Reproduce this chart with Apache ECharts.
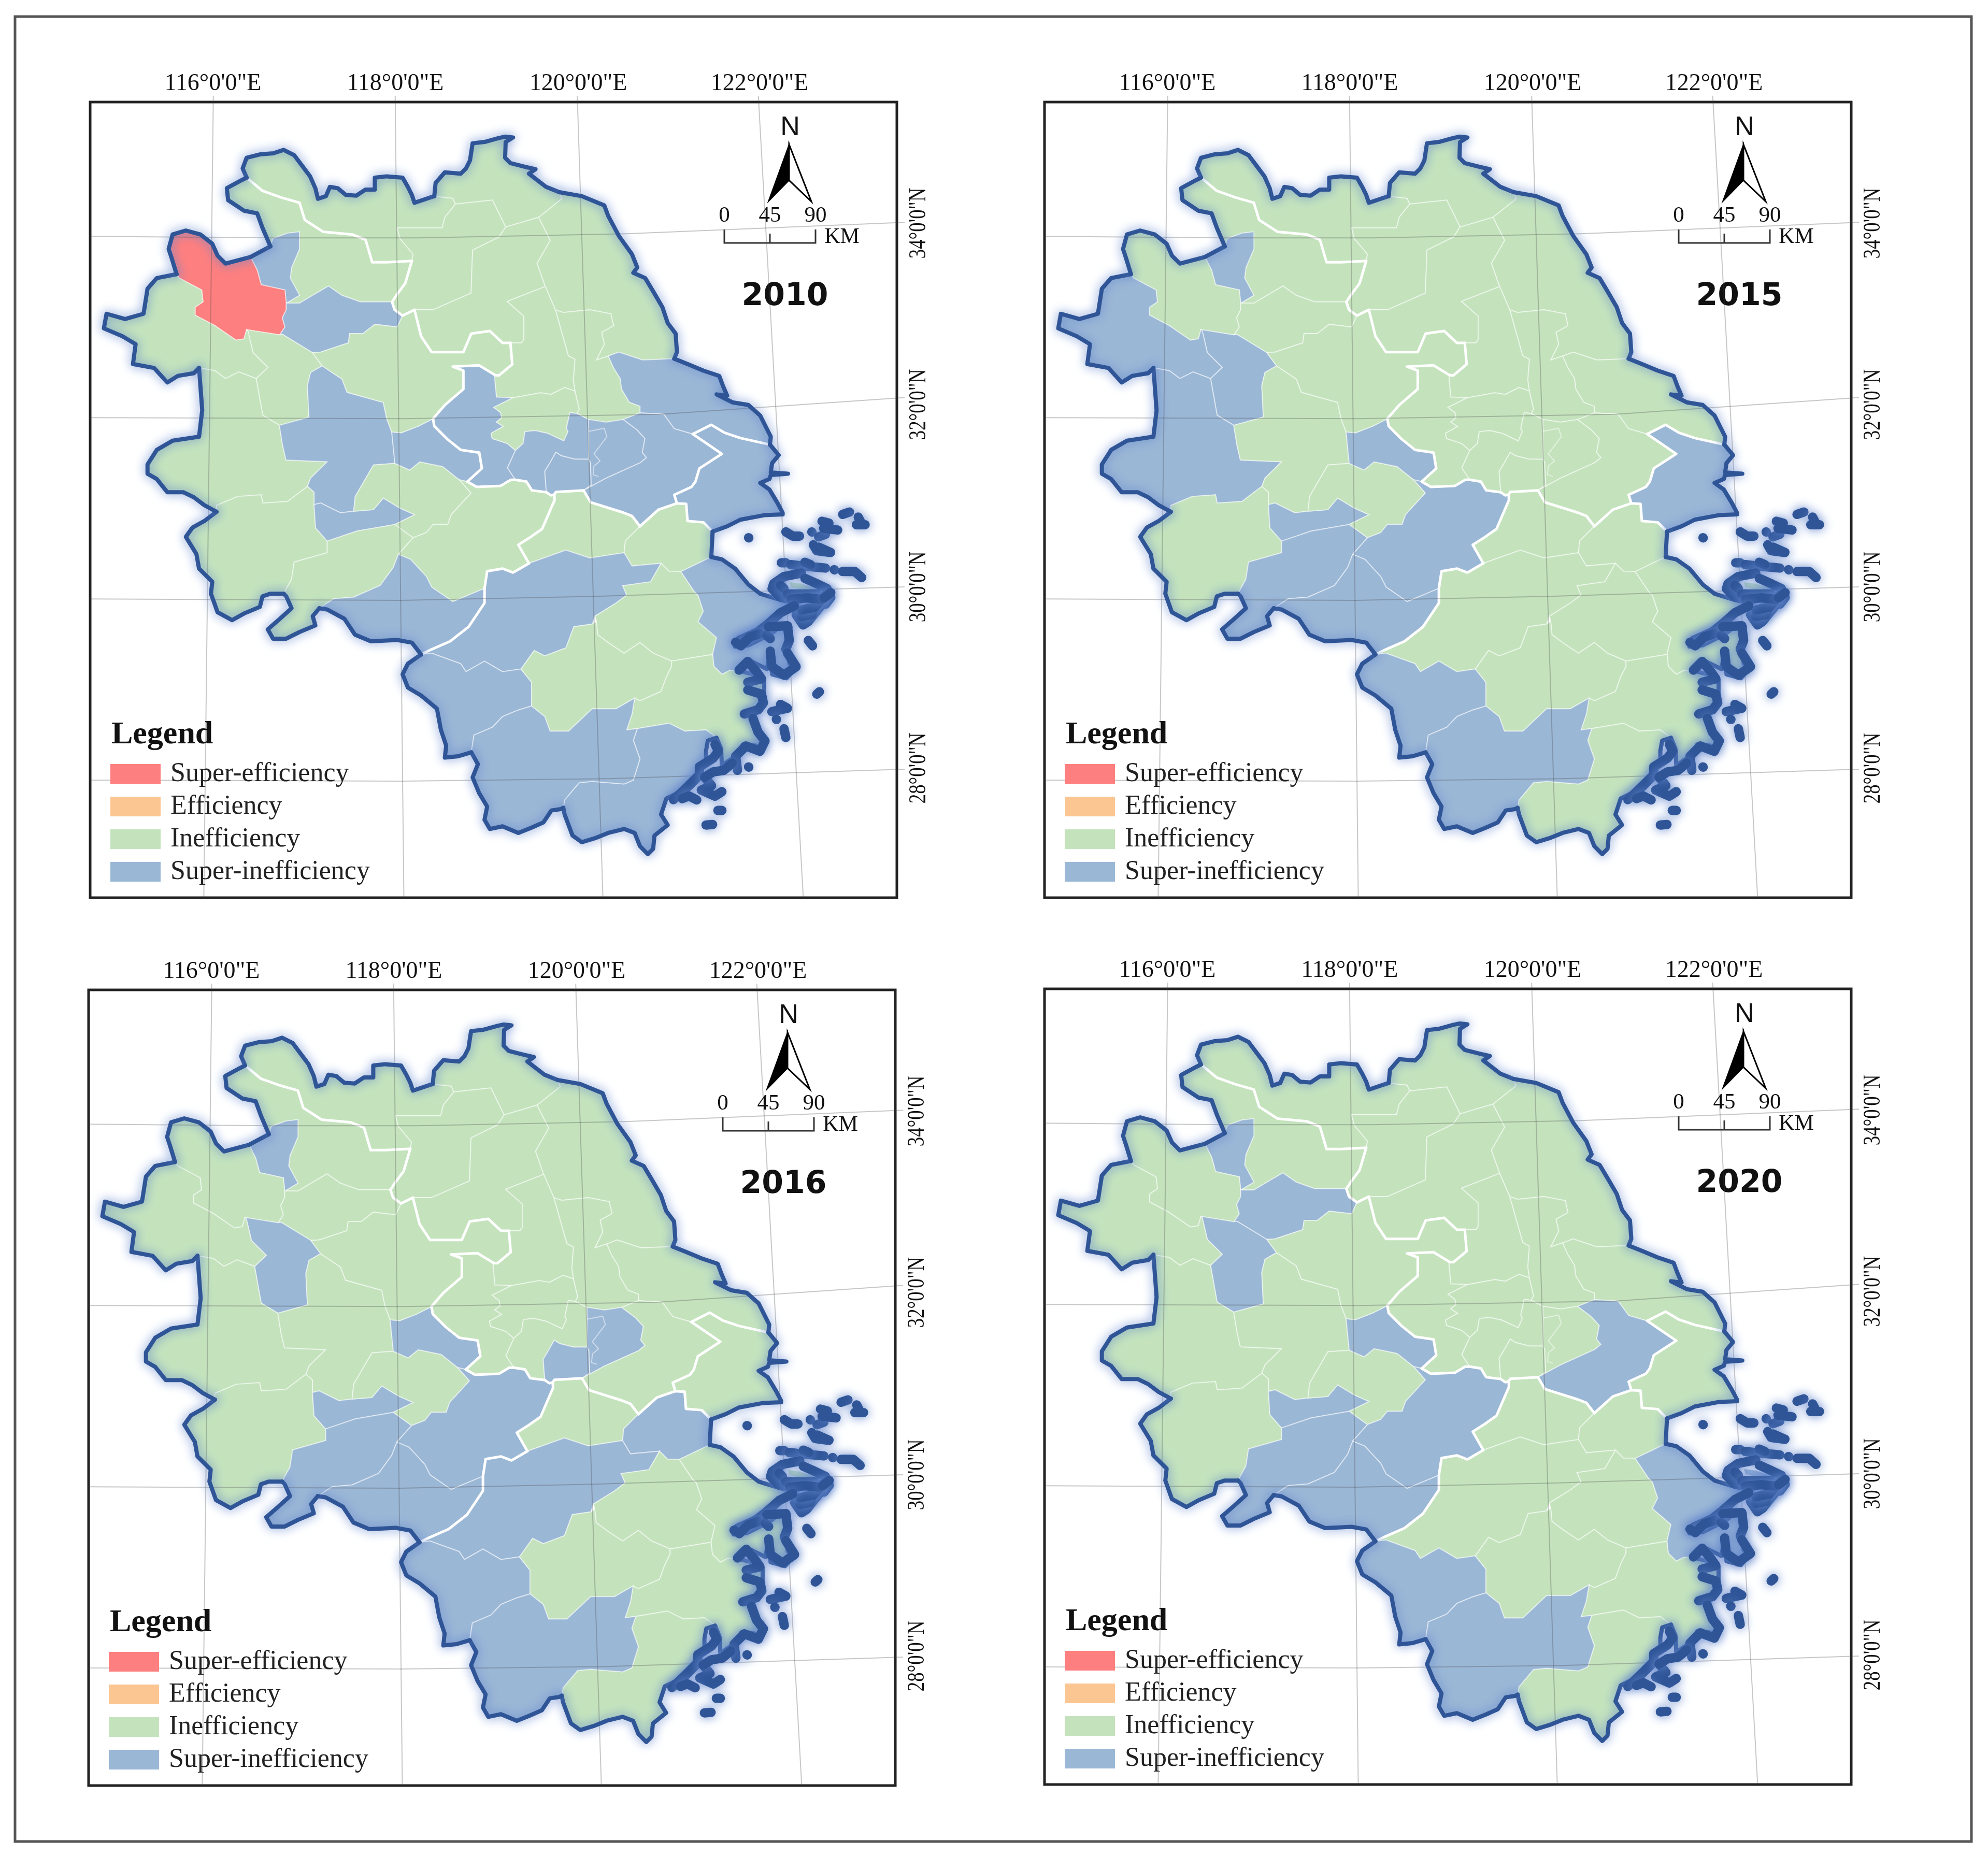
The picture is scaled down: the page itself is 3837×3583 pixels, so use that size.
<!DOCTYPE html>
<html>
<head>
<meta charset="utf-8">
<title>Efficiency maps</title>
<script src="https://cdn.jsdelivr.net/npm/echarts@6/dist/echarts.min.js"></script>
<style>
  html, body { margin: 0; padding: 0; background: #fff; }
  #chart { width: 3837px; height: 3583px; }
</style>
</head>
<body>
<div id="chart"></div>
<script>
// ---- data ----
const years = ["2010", "2015", "2016", "2020"];
const classNames = ["Super-efficiency", "Efficiency", "Inefficiency", "Super-inefficiency"];
const classColors = ["#fe7f7f", "#fcc693", "#c4e3bd", "#9bb7d6"];
const lonLabels = ["116°0'0\"E", "118°0'0\"E", "120°0'0\"E", "122°0'0\"E"];
const latLabels = ["34°0'0\"N", "32°0'0\"N", "30°0'0\"N", "28°0'0\"N"];
const scaleLabels = ["0", "45", "90"];

const S = 0, I = 2, U = 3;
const regionNames = [
  "Xuzhou", "Lianyungang", "Suqian", "Huaian", "Yancheng", "Nantong", "TaizhouJS", "Yangzhou", "Nanjing", "ZhenjiangN", "Zhenjiang", "Changzhou", "Wuxi", "SuzhouJS",
  "Shanghai",
  "SuzhouAH", "Huaibei", "Bozhou", "Bengbu", "Huainan", "Fuyang", "Luan", "Hefei", "Anqing", "Tongling", "Chizhou", "Wuhu", "Maanshan", "Chuzhou", "Xuancheng", "Huangshan",
  "Huzhou", "Jiaxing", "Hangzhou", "Quzhou", "Shaoxing", "Ningbo", "Jinhua", "TaizhouZJ", "Wenzhou", "Lishui", "Zhoushan"
];
const values2010 = [I,I,I,I,I,U,I,I,U,I,U,U,U,U, U, I,U,S,U,I,I,I,U,I,U,I,I,U,I,I,U, I,I,U,U,I,U,I,I,U,U,I];
const values2015 = [I,I,I,I,I,I,I,I,I,I,I,I,I,I, U, I,U,I,I,U,U,U,I,I,U,U,I,U,I,U,U, I,I,I,U,I,I,I,I,I,U,I];
const values2016 = [I,I,I,I,I,I,I,I,I,I,I,U,U,I, I, I,U,I,I,U,I,I,I,I,U,U,I,U,I,U,U, I,U,U,U,I,I,I,I,I,U,I];
const values2020 = [I,I,I,I,I,I,I,I,I,I,I,I,I,U, I, I,U,I,U,U,I,I,I,I,U,U,I,U,I,U,U, I,I,I,U,I,U,I,I,I,U,U];
const yearValues = [values2010, values2015, values2016, values2020];

// map geometry, projected map units with y growing southwards (flipped when the geojson is built)
const coastXuzhou = [[600,300],[585,265],[600,225],[650,212],[700,208],[740,195],[780,215],[810,255],[840,295],[860,340],[870,380],[900,370],[915,335],[945,340],[975,365],[1015,368],[1050,345],[1085,345],[1085,300],[1130,295],[1190,300],[1210,335],[1225,365],[1235,395],[1280,380],[1310,370]];
const coastLyg = [[1310,370],[1315,320],[1350,280],[1410,285],[1430,265],[1445,235],[1455,170],[1500,165],[1555,150],[1578,145],[1608,148],[1580,165],[1578,225],[1598,245],[1658,260],[1693,268],[1668,285],[1733,335],[1783,355]];
const coastYancheng = [[1783,355],[1868,370],[1953,405],[1968,445],[2008,520],[2058,590],[2078,640],[2063,660],[2108,680],[2138,730],[2173,790],[2193,850],[2223,890],[2228,960],[2218,985]];
const coastNantong = [[2218,985],[2268,1005],[2328,1030],[2388,1050],[2403,1090],[2418,1125],[2378,1120],[2438,1150],[2498,1160],[2543,1200],[2583,1280],[2580,1310]];
const coastShanghai = [[2580,1310],[2613,1350],[2588,1380],[2583,1415],[2648,1420],[2583,1425],[2578,1440],[2543,1455],[2578,1480],[2608,1530],[2628,1568],[2628,1574],[2558,1577],[2468,1594],[2418,1619],[2363,1639]];
const coastJiaxing = [[2363,1639],[2358,1735]];
const coastNingbo = [[2358,1735],[2398,1744],[2448,1779],[2498,1839],[2543,1874],[2608,1894],[2698,1904],[2628,1949],[2578,1989],[2498,2029],[2448,2049],[2448,2074],[2498,2069],[2568,2034],[2593,2019],[2628,1989],[2658,1999],[2648,2069],[2653,2139],[2683,2149],[2643,2194],[2588,2179],[2583,2089],[2568,2159],[2508,2129],[2458,2164]];
const coastTaizhou = [[2458,2164],[2518,2179],[2558,2199],[2558,2259],[2533,2309],[2478,2324],[2513,2339],[2528,2389],[2558,2424],[2543,2469],[2528,2449],[2478,2444],[2448,2489],[2398,2524],[2395,2460],[2378,2419]];
const coastWenzhou = [[2378,2419],[2345,2430],[2338,2469],[2338,2519],[2308,2549],[2278,2579],[2228,2629],[2188,2649],[2168,2709],[2193,2749],[2143,2789],[2138,2839],[2118,2859],[2088,2829],[2068,2779],[2028,2764],[1968,2779],[1918,2799],[1868,2814],[1833,2789],[1803,2709],[1798,2684]];
const coastLishui = [[1798,2684],[1788,2689],[1753,2694],[1723,2739],[1678,2759],[1628,2779],[1568,2754],[1520,2764],[1500,2729],[1510,2679],[1480,2629],[1455,2569],[1475,2519],[1450,2474]];
const coastQuzhou = [[1450,2474],[1400,2489],[1350,2494],[1355,2449],[1335,2389],[1320,2309],[1260,2259],[1210,2229],[1190,2179],[1210,2139],[1260,2104]];
const coastHuangshan = [[1260,2104],[1225,2059],[1170,2049],[1070,2054],[1010,2029],[970,1969],[905,1934],[875,1929]];
const coastChizhou = [[875,1929],[850,1959],[860,1994],[800,2019],[750,2044],[700,2044],[680,2009],[720,1974],[770,1929],[750,1884],[740,1874]];
const coastAnqing = [[740,1874],[690,1874],[660,1884],[650,1924],[590,1949],[545,1974],[490,1944],[465,1874],[470,1829],[420,1779],[410,1724],[370,1659],[395,1624],[440,1599],[486,1564]];
const coastLuan = [[486,1564],[440,1539],[400,1509],[360,1490],[300,1490],[260,1440],[225,1420],[225,1385],[260,1330],[320,1295],[420,1280],[432,1180],[420,1020]];
const coastFuyang = [[420,1020],[400,1040],[340,1050],[300,1075],[250,1020],[170,1005],[180,930],[130,900],[60,870],[70,815],[140,835],[210,815],[225,720],[260,680],[335,665]];
const coastBozhou = [[335,665],[315,600],[305,570],[320,515],[370,500],[425,515],[470,550],[490,595],[520,625],[615,600]];
const coastHuaibei = [[615,600],[690,560]];
const coastSuzhouAH = [[690,560],[660,490],[640,435],[590,425],[530,385],[525,340],[580,310],[600,300]];
const coastLines = [coastXuzhou, coastLyg, coastYancheng, coastNantong, coastShanghai, coastJiaxing, coastNingbo, coastTaizhou, coastWenzhou, coastLishui, coastQuzhou, coastHuangshan, coastChizhou, coastAnqing, coastLuan, coastFuyang, coastBozhou, coastHuaibei, coastSuzhouAH];

// province borders
const bXuzhouAH = [[600,300],[660,350],[730,375],[800,395],[820,460],[890,505],[1000,515],[1050,535],[1075,620],[1130,620],[1225,615]];
const bS1 = [[1225,615],[1200,700],[1170,740],[1150,770]];
const bS2 = [[1150,770],[1160,800],[1190,822]];
const bS3 = [[1190,822],[1235,800]];
const bHuaianAH = [[1235,800],[1260,900],[1300,960],[1420,960],[1450,890],[1520,880],[1568,925],[1598,925]];
const bYangzhouAH = [[1598,925],[1605,1006],[1555,1048],[1540,1047]];
const bNC = [[1540,1047],[1480,1010],[1380,1015],[1420,1030],[1420,1100],[1350,1160],[1305,1212]];
const bNM = [[1305,1212],[1310,1240],[1360,1290],[1410,1330],[1480,1340],[1490,1400],[1435,1450]];
const bNX = [[1435,1450],[1470,1470],[1561,1466],[1600,1443],[1617,1443]];
const bZX = [[1617,1443],[1659,1450],[1679,1483],[1734,1490]];
const bCX = [[1734,1490],[1751,1502],[1764,1499]];
const bCH = [[1764,1499],[1770,1489],[1875,1483]];
const bSH = [[1875,1483],[1901,1528],[2025,1567],[2058,1580],[2088,1619]];
const bSJ = [[2088,1619],[2158,1556],[2228,1532]];
const bShJ = [[2228,1532],[2263,1534],[2268,1599],[2328,1604],[2363,1639]];
const bShS = [[2228,1532],[2218,1500],[2283,1470],[2298,1450],[2313,1400],[2398,1345],[2288,1270]];
const bShN = [[2288,1270],[2358,1235],[2408,1265],[2468,1285],[2580,1310]];
const bXH1 = [[1764,1499],[1765,1520],[1748,1559],[1718,1629],[1668,1664],[1628,1689],[1668,1759]];
const bXH2 = [[1668,1759],[1608,1794],[1568,1779],[1510,1789],[1500,1854]];
const bHH = [[1500,1854],[1500,1909],[1440,1999],[1370,2054],[1290,2089],[1260,2104]];
const provinceLines = [bXuzhouAH, bS1, bS2, bS3, bHuaianAH, bYangzhouAH, bNC, bNM, bNX, bZX, bCX, bCH, bSH, bSJ, bShJ, bShS, bShN, bXH1, bXH2, bHH];

// county line that is no city border
const innerLines = [[[1894,1260],[1953,1248],[1963,1280],[1914,1345],[1937,1372],[1914,1391],[1911,1424],[1930,1430]]];

const rev = a => a.slice().reverse();

const regionRings = {
  Xuzhou: [...coastXuzhou, [1380,378],[1390,400],[1350,450],[1340,490],[1170,490],[1180,530],[1230,590], ...rev(bXuzhouAH)],
  Lianyungang: [...coastLyg, [1793,380],[1705,450],[1580,487],[1530,385],[1390,400],[1380,378]],
  Suqian: [[1170,490],[1340,490],[1350,450],[1390,400],[1530,385],[1580,487],[1555,525],[1455,574],[1449,737],[1305,800], ...rev(bS3), ...rev(bS2), ...rev(bS1), [1230,590],[1180,530]],
  Huaian: [[1305,800],[1449,737],[1455,574],[1555,525],[1580,487],[1705,450],[1749,537],[1699,624],[1730,712],[1586,768],[1649,824],[1649,912],[1640,925], ...rev(bHuaianAH)],
  Yancheng: [...coastYancheng, [2098,990],[2008,960],[1968,975],[1923,990],[1953,930],[1943,885],[1988,860],[1978,815],[1898,800],[1798,810],[1768,800],[1730,712],[1699,624],[1749,537],[1705,450],[1793,380]],
  Nantong: [[1968,975],[2008,960],[2098,990], ...coastNantong, ...rev(bShN), [2218,1250],[2178,1195],[2088,1190],[2088,1165],[2048,1150],[2018,1100],[2013,1060],[1988,1020]],
  TaizhouJS: [[1768,800],[1798,810],[1898,800],[1978,815],[1988,860],[1943,885],[1953,930],[1923,990],[1968,975],[1988,1020],[2013,1060],[2018,1100],[2048,1150],[2088,1165],[2088,1190],[2025,1215],[1960,1225],[1894,1215],[1849,1192],[1858,1176],[1842,1107],[1836,1065],[1842,987],[1817,974]],
  Yangzhou: [[1730,712],[1768,800],[1817,974],[1842,987],[1836,1065],[1842,1107],[1803,1094],[1751,1120],[1712,1114],[1607,1133],[1545,1130],[1538,1058], ...rev(bYangzhouAH), [1640,925],[1649,912],[1649,824],[1586,768]],
  Nanjing: [[1540,1047],[1538,1058],[1545,1130],[1607,1133],[1535,1169],[1561,1189],[1565,1208],[1545,1225],[1571,1241],[1525,1267],[1529,1287],[1548,1293],[1587,1306],[1617,1332],[1587,1398], ...rev(bNX), ...rev(bNM), ...rev(bNC)],
  ZhenjiangN: [[1607,1133],[1712,1114],[1751,1120],[1803,1094],[1842,1107],[1858,1176],[1849,1192],[1823,1189],[1810,1248],[1816,1261],[1800,1296],[1738,1267],[1692,1257],[1653,1261],[1646,1306],[1617,1332],[1587,1306],[1548,1293],[1529,1287],[1525,1267],[1571,1241],[1545,1225],[1565,1208],[1561,1189],[1535,1169]],
  Zhenjiang: [[1617,1332],[1646,1306],[1653,1261],[1692,1257],[1738,1267],[1800,1296],[1816,1261],[1810,1248],[1823,1189],[1849,1192],[1894,1215],[1894,1260],[1894,1365],[1842,1365],[1790,1352],[1770,1339],[1744,1385],[1728,1411], ...rev(bZX), [1587,1398]],
  Changzhou: [[1744,1385],[1770,1339],[1790,1352],[1842,1365],[1894,1365],[1901,1378],[1904,1463], ...rev(bCH), ...rev(bCX), [1728,1411]],
  Wuxi: [[1894,1215],[1960,1225],[2025,1215],[2077,1254],[2107,1287],[2097,1339],[2113,1359],[2090,1378],[1960,1437],[1875,1483],[1904,1463],[1901,1378],[1894,1365],[1894,1260]],
  SuzhouJS: [[2025,1215],[2088,1190],[2178,1195],[2218,1250], ...rev(bShS), ...rev(bSJ), ...rev(bSH), [1960,1437],[2090,1378],[2113,1359],[2097,1339],[2107,1287],[2077,1254]],
  Shanghai: [...bShN, ...coastShanghai, ...rev(bShJ), ...bShS],
  SuzhouAH: [...bXuzhouAH, ...bS1, [1030,770],[960,745],[910,710],[850,745],[800,775],[750,775],[800,745],[765,680],[770,640],[800,570],[800,505],[755,510],[700,530], ...coastSuzhouAH],
  Huaibei: [...coastHuaibei, [700,530],[755,510],[800,505],[800,570],[770,640],[765,680],[800,745],[750,775],[745,725],[655,705],[640,650]],
  Bozhou: [...coastBozhou, [640,650],[655,705],[745,725],[750,775],[750,800],[735,830],[745,865],[725,895],[600,875],[590,910],[560,915],[480,860],[405,820],[405,790],[435,770],[430,725],[345,680]],
  Bengbu: [[750,775],[800,775],[850,745],[910,710],[960,745],[1030,770], ...bS2, [1170,865],[1085,855],[1040,890],[990,890],[985,925],[880,960],[849,962],[736,893],[725,895],[745,865],[735,830],[750,800]],
  Huainan: [[600,875],[725,895],[736,893],[849,962],[886,1012],[842,1037],[830,1087],[836,1206],[724,1237],[661,1199],[636,1060],[680,1018],[624,962],[605,881]],
  Fuyang: [...coastFuyang, [345,680],[430,725],[435,770],[405,790],[405,820],[480,860],[560,915],[590,910],[600,875],[605,881],[624,962],[680,1018],[636,1060],[570,1035],[520,1060],[480,1030]],
  Luan: [[420,1020],[480,1030],[520,1060],[570,1035],[636,1060],[661,1199],[724,1237],[736,1312],[749,1368],[905,1375],[842,1437],[830,1468],[755,1525],[661,1531],[655,1500],[567,1506],[486,1540], ...coastLuan],
  Hefei: [[724,1237],[836,1206],[830,1087],[842,1037],[886,1012],[961,1062],[980,1112],[1117,1150],[1130,1212],[1149,1262],[1161,1381],[1080,1387],[1011,1506],[1005,1562],[955,1568],[880,1531],[855,1537],[855,1490],[830,1468],[842,1437],[905,1375],[749,1368],[736,1312]],
  Anqing: [...coastAnqing, [486,1540],[567,1506],[655,1500],[661,1531],[755,1525],[830,1468],[855,1490],[855,1537],[861,1625],[905,1675],[905,1719],[780,1754],[770,1819]],
  Tongling: [[855,1537],[880,1531],[955,1568],[1005,1562],[1080,1556],[1117,1512],[1180,1550],[1236,1575],[1161,1612],[1017,1637],[905,1675],[861,1625]],
  Chizhou: [[905,1675],[1017,1637],[1161,1612],[1230,1662],[1174,1725],[1155,1775],[1105,1843],[1005,1887],[930,1893], ...coastChizhou, [770,1819],[780,1754],[905,1719]],
  Wuhu: [[1080,1387],[1161,1381],[1217,1406],[1255,1375],[1342,1393],[1405,1443],[1449,1493],[1374,1575],[1361,1612],[1305,1612],[1280,1643],[1230,1662],[1161,1612],[1236,1575],[1180,1550],[1117,1512],[1080,1556],[1005,1562],[1011,1506]],
  Maanshan: [[1149,1262],[1185,1265],[1250,1240], ...bNM, [1405,1443],[1342,1393],[1255,1375],[1217,1406],[1161,1381]],
  Chuzhou: [[849,962],[880,960],[985,925],[990,890],[1040,890],[1085,855],[1170,865], ...bS3, ...bHuaianAH, ...bYangzhouAH, ...bNC, [1250,1240],[1185,1265],[1149,1262],[1130,1212],[1117,1150],[980,1112],[961,1062],[886,1012]],
  Xuancheng: [[1405,1443], ...bNX, ...bZX, ...bCX, ...bXH1, ...bXH2, [1380,1904],[1300,1849],[1280,1809],[1220,1744],[1174,1725],[1230,1662],[1280,1643],[1305,1612],[1361,1612],[1374,1575],[1449,1493]],
  Huangshan: [[1174,1725],[1220,1744],[1280,1809],[1300,1849],[1380,1904], ...bHH, ...coastHuangshan, [930,1893],[1005,1887],[1105,1843],[1155,1775]],
  Huzhou: [...bCH, ...bSH, [2033,1674],[2028,1719],[1898,1739],[1808,1709], ...rev(bXH1)],
  Jiaxing: [...bSJ, ...bShJ, ...coastJiaxing, [2243,1790],[2198,1789],[2168,1759],[2058,1769],[2028,1719],[2033,1674]],
  Hangzhou: [[1668,1759],[1808,1709],[1898,1739],[2028,1719],[2058,1769],[2168,1759],[2128,1829],[2023,1844],[2038,1879],[1998,1909],[1918,1959],[1908,1989],[1838,1999],[1808,2079],[1728,2109],[1688,2089],[1638,2159],[1568,2169],[1500,2129],[1430,2169],[1410,2139],[1300,2099], ...rev(bHH), ...rev(bXH2)],
  Quzhou: [...coastQuzhou, [1300,2099],[1410,2139],[1430,2169],[1500,2129],[1568,2169],[1638,2159],[1678,2209],[1678,2299],[1628,2314],[1568,2339],[1530,2379],[1460,2409]],
  Shaoxing: [[2168,1759],[2198,1789],[2243,1790],[2293,1865],[2308,1880],[2328,1940],[2308,1980],[2378,2040],[2363,2104],[2268,2119],[2208,2129],[2138,2099],[2088,2059],[2028,2099],[1968,2059],[1928,2029],[1923,1979],[1918,1959],[1998,1909],[2038,1879],[2023,1844],[2128,1829]],
  Ningbo: [[2243,1790], ...coastNingbo, [2428,2164],[2398,2179],[2368,2149],[2363,2104],[2378,2040],[2308,1980],[2328,1940],[2308,1880],[2293,1865]],
  Jinhua: [[1923,1979],[1928,2029],[1968,2059],[2028,2099],[2088,2059],[2138,2099],[2208,2129],[2208,2149],[2188,2189],[2168,2244],[2088,2279],[2068,2269],[1998,2309],[1908,2309],[1818,2394],[1748,2394],[1728,2339],[1678,2299],[1678,2209],[1638,2159],[1688,2089],[1728,2109],[1808,2079],[1838,1999],[1908,1989]],
  TaizhouZJ: [[2363,2104],[2368,2149],[2398,2179],[2428,2164], ...coastTaizhou, [2338,2389],[2258,2394],[2198,2364],[2078,2384],[2038,2389],[2058,2329],[2068,2269],[2088,2279],[2168,2244],[2188,2189],[2208,2149],[2208,2129],[2268,2119]],
  Wenzhou: [...coastWenzhou, [1803,2654],[1858,2589],[1908,2584],[2028,2594],[2063,2579],[2088,2499],[2063,2429],[2078,2384],[2198,2364],[2258,2394],[2338,2389]],
  Lishui: [...coastLishui, [1460,2409],[1530,2379],[1568,2339],[1628,2314],[1678,2299],[1728,2339],[1748,2394],[1818,2394],[1908,2309],[1998,2309],[2068,2269],[2058,2329],[2038,2389],[2078,2384],[2063,2429],[2088,2499],[2063,2579],[2028,2594],[1908,2584],[1858,2589],[1803,2654]],
  Zhoushan: [[2653,1829],[2698,1835],[2757,1854],[2757,1868],[2698,1860],[2658,1850]]
};

// islands off the coast and the mudflat belts, drawn as heavy strokes
const islands = [
  [[2499,1662],[2500,1663]],
  [[2640,1640],[2666,1656],[2692,1656]], [[2738,1640],[2739,1641]], [[2764,1659],[2790,1649]],
  [[2777,1600],[2803,1607],[2783,1627],[2836,1633]], [[2855,1574],[2881,1565]],
  [[2914,1584],[2927,1610],[2907,1613],[2940,1613]],
  [[2744,1689],[2757,1711],[2809,1718],[2764,1698]],
  [[2623,1757],[2640,1757]], [[2659,1764],[2712,1770],[2790,1777]], [[2712,1755],[2733,1764]],
  [[2823,1783],[2824,1784]], [[2855,1790],[2901,1790],[2927,1813]],
  [[2699,1796],[2633,1809],[2594,1836],[2588,1855],[2620,1888],[2679,1901]], [[2620,1842],[2633,1855]],
  [[2712,1816],[2757,1836],[2796,1855],[2810,1888],[2790,1914],[2757,1875],[2699,1875],[2646,1875]],
  [[2777,1914],[2751,1946],[2725,1979],[2705,1992],[2679,1953],[2725,1927]], [[2757,1900],[2738,1953],[2699,1960]],
  [[2790,1880],[2750,1925],[2700,1935]], [[2660,1895],[2720,1890],[2775,1895]], [[2810,1870],[2785,1890]],
  [[2672,1920],[2620,1946],[2568,1992],[2535,2018],[2463,2051]], [[2450,2058],[2470,2071],[2503,2038],[2542,2025]],
  [[2568,2031],[2581,2044]], [[2574,1999],[2646,1995],[2653,2051],[2640,2084]], [[2725,2051],[2741,2071]],
  [[2581,2091],[2587,2150],[2633,2182],[2679,2150],[2646,2098]],
  [[2463,2163],[2496,2130],[2529,2169],[2548,2196],[2496,2209]],
  [[2496,2238],[2548,2254],[2555,2287],[2535,2313],[2483,2329]],
  [[2516,2346],[2535,2398],[2561,2431],[2542,2470],[2489,2450],[2450,2489],[2457,2542]],
  [[2372,2444],[2385,2470],[2365,2496],[2313,2529],[2313,2561],[2274,2600],[2215,2653]],
  [[2333,2568],[2359,2600],[2320,2617],[2372,2640],[2398,2623]],
  [[2437,2515],[2405,2542],[2365,2548],[2333,2568]],
  [[2620,2293],[2646,2307],[2587,2320]], [[2604,2349],[2605,2350]], [[2633,2385],[2640,2418]],
  [[2499,2529],[2500,2530]], [[2757,2254],[2767,2245]],
  [[2248,2649],[2273,2639],[2303,2654]], [[2383,2694],[2398,2694]], [[2338,2749],[2363,2747]]
];

// graticule, meridians and parallels with their outer tick stubs
const graticule = [
  [[474,-8],[438,3024]], [[1162,-8],[1195,3024]], [[1851,-8],[1948,3024]], [[2536,-8],[2706,3024]],
  [[8,522],[700,528],[1250,528],[2038,512],[3088,469]],
  [[8,1208],[1200,1212],[2168,1195],[3088,1132]],
  [[8,1894],[1185,1899],[1918,1884],[3088,1848]],
  [[8,2579],[1190,2583],[1968,2574],[3088,2538]]
];

// ---- panels ----
const frames = [
  { left: 174, top: 197 },
  { left: 2016, top: 197 },
  { left: 171, top: 1911 },
  { left: 2016, top: 1909 }
];
const frameW = 1557, frameH = 1536;
const bounds = [[8, -14], [3060, -3024]];
const flip = line => line.map(p => [p[0], -p[1]]);

const geoJSON = {
  type: "FeatureCollection",
  features: regionNames.map(name => ({
    type: "Feature",
    properties: { name },
    geometry: { type: "Polygon", coordinates: [flip(regionRings[name]).concat([[regionRings[name][0][0], -regionRings[name][0][1]]])] }
  }))
};
years.forEach(y => echarts.registerMap("yrd" + y, { geoJSON }));

const serif = '"Liberation Serif", "Times New Roman", serif';
const series = [], geos = [], visualMaps = [], graphics = [];

years.forEach((year, i) => {
  const box = { left: frames[i].left, top: frames[i].top, width: frameW, height: frameH };
  geos.push({
    map: "yrd" + year, ...box, boundingCoords: bounds, aspectScale: 1, silent: true, roam: false, z: 0,
    itemStyle: { areaColor: "transparent", borderWidth: 0, borderColor: "transparent" },
    emphasis: { disabled: true }, label: { show: false }
  });
  visualMaps.push({
    type: "piecewise", seriesIndex: series.length, orient: "vertical", inverse: true, align: "left",
    left: frames[i].left + 39, top: frames[i].top + 1271, padding: 0,
    itemWidth: 97, itemHeight: 38, itemGap: 11, textGap: 19, itemSymbol: "rect", selectedMode: false, hoverLink: false,
    textStyle: { fontFamily: serif, fontSize: 52, color: "#222" },
    pieces: classNames.map((label, k) => ({ value: k, label, color: classColors[k] }))
  });
  series.push({
    type: "map", map: "yrd" + year, ...box, boundingCoords: bounds, aspectScale: 1, roam: false, silent: true, z: 1,
    itemStyle: { borderColor: "rgba(255,255,255,0.5)", borderWidth: 2 },
    label: { show: false }, emphasis: { disabled: true }, select: { disabled: true },
    data: regionNames.map((name, k) => ({ name, value: yearValues[i][k] }))
  });
  const lineSeries = (lines, z, lineStyle) => ({
    type: "lines", coordinateSystem: "geo", geoIndex: i, polyline: true, silent: true, z,
    lineStyle: { opacity: 1, curveness: 0, cap: "round", join: "round", ...lineStyle },
    data: lines.map(l => ({ coords: flip(l) }))
  });
  series.push(lineSeries(innerLines, 2, { color: "rgba(255,255,255,0.5)", width: 2 }));
  series.push(lineSeries(provinceLines, 2, { color: "#ffffff", width: 5 }));
  series.push(lineSeries(graticule, 3, { color: "rgba(70,70,70,0.3)", width: 2 }));
  const glow = { color: "#2f5597", shadowBlur: 20, shadowColor: "rgba(100,135,205,1)" };
  series.push(lineSeries(coastLines, 4, { ...glow, width: 8 }));
  series.push(lineSeries(islands, 4, { ...glow, width: 18 }));

  const text = (str, x, y, font, extra) => ({
    type: "text", x, y, silent: true, ...extra,
    style: { text: str, font, fill: "#111", align: "center", verticalAlign: "middle" }
  });
  const kids = [
    { type: "rect", silent: true, shape: { x: 0, y: 0, width: frameW, height: frameH }, style: { fill: "none", stroke: "#222", lineWidth: 5 } },
    text("N", 1351, 50, '52px "Liberation Sans", Arial, sans-serif'),
    { type: "polygon", silent: true, shape: { points: [[1349, 82], [1309, 192], [1349, 151]] }, style: { fill: "#000", stroke: "#000", lineWidth: 2 } },
    { type: "polygon", silent: true, shape: { points: [[1349, 82], [1349, 151], [1392, 192]] }, style: { fill: "#fff", stroke: "#000", lineWidth: 3 } },
    { type: "polyline", silent: true, shape: { points: [[1224, 246], [1224, 272], [1400, 272], [1400, 246]] }, style: { fill: "none", stroke: "#333", lineWidth: 3 } },
    { type: "polyline", silent: true, shape: { points: [[1312, 254], [1312, 272]] }, style: { fill: "none", stroke: "#333", lineWidth: 3 } },
    text("KM", 1451, 261, '42px ' + serif),
    text(year, 1341, 376, 'bold 60px "DejaVu Sans", sans-serif'),
    { type: "text", x: 41, y: 1222, silent: true, style: { text: "Legend", font: 'bold 62px ' + serif, fill: "#111", align: "left", verticalAlign: "middle" } }
  ];
  scaleLabels.forEach((t, k) => kids.push(text(t, [1224, 1312, 1400][k], 220, '43px ' + serif)));
  lonLabels.forEach((t, k) => kids.push(text(t, [237, 589, 942, 1292][k], -35, '46px ' + serif)));
  latLabels.forEach((t, k) => kids.push(text(t, 1600, [234, 584, 936, 1286][k], '46px ' + serif, { rotation: Math.PI / 2, scaleX: 0.8 })));
  graphics.push({ type: "group", x: frames[i].left, y: frames[i].top, z: 20, children: kids });
});

graphics.push({
  type: "rect", silent: true, z: 20, shape: { x: 29, y: 32, width: 3776, height: 3523 },
  style: { fill: "none", stroke: "#555", lineWidth: 5 }
});

const myChart = echarts.init(document.getElementById("chart"), null, { width: 3837, height: 3583 });
myChart.setOption({
  backgroundColor: "#fff",
  animation: false,
  geo: geos,
  visualMap: visualMaps,
  graphic: { elements: graphics },
  series
});
</script>
</body>
</html>
